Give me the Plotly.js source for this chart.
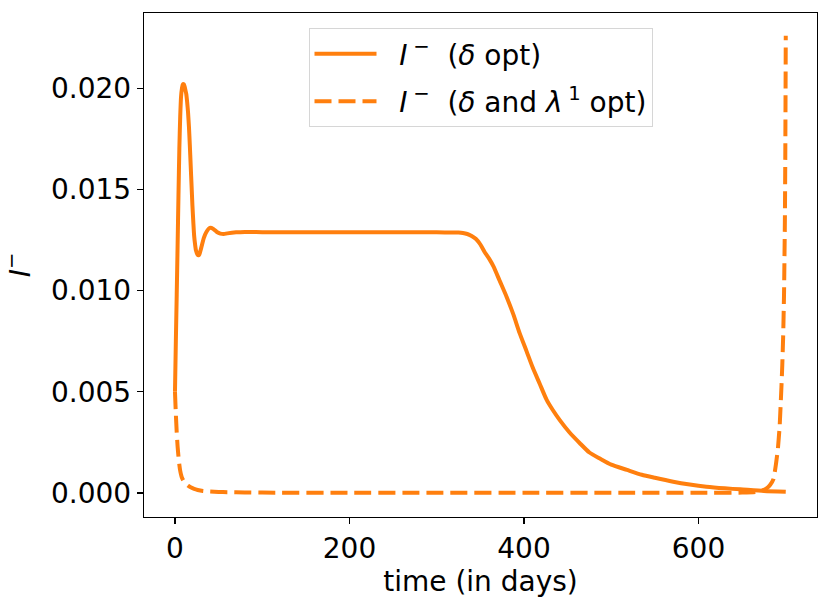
<!DOCTYPE html>
<html>
<head>
<meta charset="utf-8">
<script src="https://cdn.plot.ly/plotly-3.0.1.min.js"></script>
<style>
  body { margin: 0; background: #fff; }
  #chart { width: 830px; height: 606px; }
</style>
</head>
<body>
<div id="chart"></div>
<script>
// I- avec delta optimal (trait plein)
const tDelta = [0, 1, 2, 3, 4, 5, 6, 7, 8, 9, 10, 11, 12, 13, 14, 15, 16, 17, 18, 19, 20, 21, 22, 23, 24, 26, 27, 28, 30, 33, 36, 40, 44, 48, 52, 56, 60, 70, 80, 100, 150, 200, 250, 300, 320, 325, 330, 335, 340, 345, 350, 355, 360, 365, 372, 380, 388, 395, 403, 410, 418, 426, 433, 441, 452, 464, 475, 487, 500, 518, 535, 550, 571, 590, 609, 630, 648, 675, 700];
const iDelta = [0.0050, 0.0075, 0.0098, 0.0122, 0.0147, 0.0170, 0.0186, 0.0196, 0.0200, 0.0202, 0.0202, 0.0201, 0.0199, 0.0197, 0.0193, 0.0188, 0.0181, 0.0172, 0.0162, 0.0152, 0.0142, 0.0134, 0.0127, 0.0123, 0.0120, 0.01177, 0.01175, 0.0118, 0.0121, 0.0126, 0.0129, 0.0131, 0.01305, 0.0129, 0.01282, 0.0128, 0.01283, 0.01288, 0.0129, 0.01289, 0.01288, 0.01288, 0.01288, 0.01288, 0.01287, 0.01287, 0.01285, 0.0128, 0.0127, 0.01255, 0.01228, 0.0119, 0.01158, 0.0112, 0.0105, 0.0097, 0.0088, 0.0079, 0.0070, 0.0062, 0.0054, 0.0046, 0.0041, 0.0036, 0.0030, 0.00246, 0.0020, 0.0017, 0.0014, 0.00114, 0.0009, 0.00075, 0.00056, 0.00042, 0.00031, 0.00023, 0.00018, 0.0001, 0.00006];

// I- avec delta et lambda1 optimaux (tirets)
const tDeltaLambda = [0, 1, 2, 3, 4, 5, 6, 7, 8, 10, 12, 15, 18, 22, 26, 32, 40, 50, 60, 80, 100, 200, 300, 400, 500, 600, 650, 665, 672, 678, 682, 686, 689, 691, 693, 695, 696, 697, 698, 699, 699.5, 700];
const iDeltaLambda = [0.0050, 0.0039, 0.0030, 0.0023, 0.0018, 0.0014, 0.0011, 0.0009, 0.00075, 0.00058, 0.00046, 0.00036, 0.00028, 0.0002, 0.00015, 0.0001, 0.00007, 0.00005, 0.00004, 0.00003, 0.00002, 0.00001, 0.00001, 0.00001, 0.00001, 0.00001, 0.00002, 0.00005, 0.0001, 0.00023, 0.0004, 0.0007, 0.0015, 0.0022, 0.0033, 0.0052, 0.0063, 0.0077, 0.0098, 0.0135, 0.017, 0.0226];

const xTicks = [0, 200, 400, 600];
const yTicks = [0, 0.005, 0.010, 0.015, 0.020];

const orange = '#ff7f0e';
const police = 'DejaVu Sans, sans-serif';

let data = [
    {
        x: tDelta, y: iDelta,
        mode: 'lines', line: { color: orange, width: 4, shape: 'spline', smoothing: 0.6 },
        name: '\u00a0\u00a0<i>I</i>\u2009<sup>−</sup>  (<i>δ</i> opt)',
        legendgroup: 'a'
    },
    {
        x: tDeltaLambda, y: iDeltaLambda,
        mode: 'lines', line: { color: orange, width: 4, dash: '17px,7px', shape: 'spline', smoothing: 0.4 },
        name: '\u00a0\u00a0<i>I</i>\u2009<sup>−</sup>  (<i>δ</i> and <i>λ</i>\u2009<sup>1</sup> opt)',
        legendgroup: 'b'
    }
];

let axe = {
    showgrid: false, zeroline: false,
    showline: true, mirror: true, linecolor: '#000', linewidth: 1.3,
    ticks: 'outside', ticklen: 6, tickwidth: 1.3, tickcolor: '#000',
    tickfont: { family: police, size: 28, color: '#000' }
};

let layout = {
    width: 830, height: 606,
    paper_bgcolor: '#fff', plot_bgcolor: '#fff',
    font: { family: police, size: 28, color: '#000' },
    margin: { l: 144, r: 13, t: 13, b: 89, pad: 0 },
    xaxis: Object.assign({}, axe, {
        range: [-35.5, 735.8],
        tickvals: xTicks, ticktext: xTicks.map(String),
        title: { text: 'time (in days)', font: { family: police, size: 28 }, standoff: 4 }
    }),
    yaxis: Object.assign({}, axe, {
        range: [-0.001186, 0.02372],
        tickvals: yTicks, ticktext: yTicks.map(v => v.toFixed(3)),
        title: { text: '<i>I</i><sup>−</sup>', font: { family: police, size: 28 }, standoff: 22 }
    }),
    showlegend: true,
    legend: {
        x: 0.5, xanchor: 'center', y: 0.97, yanchor: 'top',
        bgcolor: 'rgba(255,255,255,0.8)', bordercolor: '#d6d6d6', borderwidth: 1,
        font: { family: police, size: 28, color: '#000' },
        traceorder: 'grouped', tracegroupgap: 8, itemwidth: 62
    }
};

Plotly.newPlot('chart', data, layout, { staticPlot: true });
</script>
</body>
</html>
